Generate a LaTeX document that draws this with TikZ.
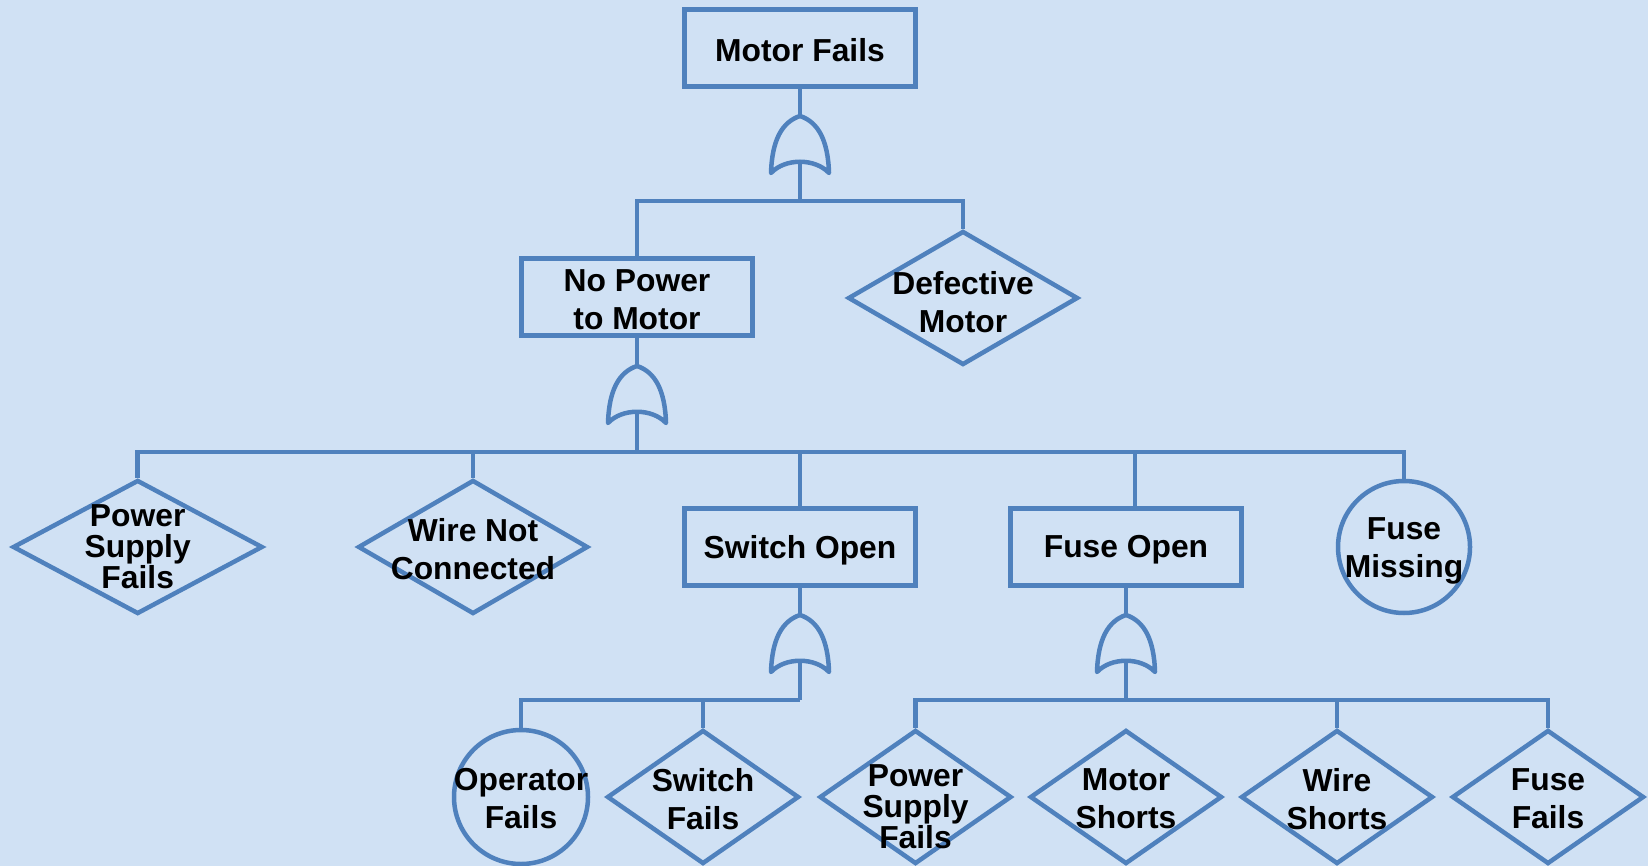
\documentclass[tikz,border=0pt]{standalone}
\usepackage{fontspec}
\setmainfont{Liberation Sans}
\usetikzlibrary{shapes.geometric}
\definecolor{bgblue}{RGB}{208,225,244}
\definecolor{lineblue}{RGB}{79,129,189}
\tikzset{
  ln/.style={draw=lineblue, line width=4.5pt},
  evtext/.style={font=\bfseries\fontsize{31.8}{38}\selectfont, align=center, text=black, inner sep=0pt},
  tight/.style={font=\bfseries\fontsize{31.8}{31}\selectfont},
  boxev/.style={ln, rectangle, minimum width=231pt, minimum height=77pt, inner sep=0pt},
  diam/.style={ln, diamond, inner sep=0pt, minimum height=134pt},
  circ/.style={ln, circle, inner sep=0pt},
  orgate/.pic={
    \draw[ln, line join=round] (-29,57) .. controls (-28,24) and (-18,6) .. (0,0)
      .. controls (18,6) and (28,24) .. (29,57)
      .. controls (15,42) and (-15,42) .. (-29,57) -- cycle;
    \coordinate (-top) at (0,0);
    \coordinate (-in) at (0,46);
  }
}
\begin{document}
\begin{tikzpicture}[x=1pt, y=-1pt]
\fill[bgblue] (0,0) rectangle (1648,866);
\useasboundingbox (0,0) rectangle (1648,866);

% level 0
\node[boxev, label={[evtext, yshift=-2pt]center:Motor Fails}] (mf) at (800,48) {};
\pic (g1) at (800,116) {orgate};
\coordinate (bar1) at (800,201);

% level 1
\node[boxev, label={[evtext, yshift=-3pt]center:No Power\\to Motor}] (npm) at (637,297) {};
\node[diam, minimum width=230pt, label={[evtext, yshift=-4pt]center:Defective\\Motor}] (dm) at (963,298) {};
\pic (g2) at (637,366) {orgate};
\coordinate (bar2) at (637,452);

% level 2
\node[diam, minimum width=250pt, label={[evtext, tight]center:Power\\Supply\\Fails}] (psf1) at (137.7,547) {};
\node[diam, minimum width=230pt, label={[evtext, yshift=-2pt]center:Wire Not\\Connected}] (wnc) at (473,547) {};
\node[boxev, label={[evtext, yshift=-3pt]center:Switch Open}] (so) at (800,547) {};
\node[boxev, label={[evtext, yshift=-3pt]center:Fuse Open}] (fo) at (1126,547) {};
\node[circ, minimum size=132pt, label={[evtext, yshift=-4pt]center:Fuse\\Missing}] (fm) at (1404,547) {};
\pic (g3) at (800,615) {orgate};
\pic (g4) at (1126,615) {orgate};
\coordinate (bar3) at (800,700);
\coordinate (bar4) at (1126,700);

% level 3
\node[circ, minimum size=134pt, label={[evtext, yshift=-2pt]center:Operator\\Fails}] (of) at (521,797) {};
\node[diam, minimum width=192pt, label={[evtext, yshift=-2pt]center:Switch\\Fails}] (sf) at (703,797) {};
\node[diam, minimum width=192pt, label={[evtext, tight, yshift=-10pt]center:Power\\Supply\\Fails}] (psf2) at (915.5,797) {};
\node[diam, minimum width=192pt, label={[evtext, yshift=-2pt]center:Motor\\Shorts}] (ms) at (1126,797) {};
\node[diam, minimum width=192pt, label={[evtext, yshift=-2pt]center:Wire\\Shorts}] (ws) at (1337,797) {};
\node[diam, minimum width=192pt, label={[evtext, yshift=-2pt]center:Fuse\\Fails}] (ff) at (1548,797) {};

% connectors
\draw[ln] (mf) -- (g1-top);
\draw[ln] (g1-in) -- (bar1);
\draw[ln] (npm.north) |- (bar1) -| (dm.north);

\draw[ln] (npm) -- (g2-top);
\draw[ln] (g2-in) -- (bar2);
\draw[ln] (psf1.north) |- (bar2) -| (fm.north);
\draw[ln] (wnc.north) -- (wnc.north |- bar2);
\draw[ln] (so.north) -- (so.north |- bar2);
\draw[ln] ([xshift=9pt]fo.north) -- ([xshift=9pt]fo.north |- bar2);

\draw[ln] (so) -- (g3-top);
\draw[ln] (g3-in) -- (bar3);
\draw[ln] (of.north) |- (bar3);
\draw[ln] (sf.north) -- (sf.north |- bar3);

\draw[ln] (fo) -- (g4-top);
\draw[ln] (g4-in) -- (bar4);
\draw[ln] (psf2.north) |- (bar4) -| (ff.north);
\draw[ln] (ws.north) -- (ws.north |- bar4);
\end{tikzpicture}
\end{document}
